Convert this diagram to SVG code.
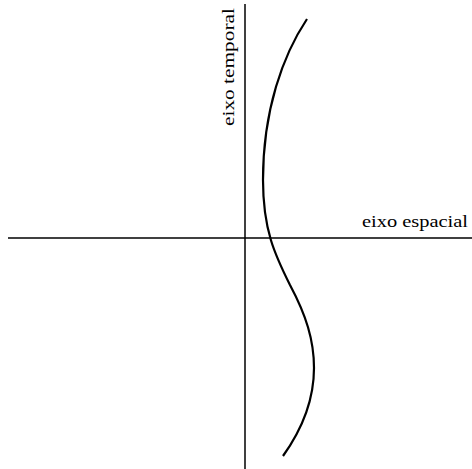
<svg xmlns="http://www.w3.org/2000/svg" width="472" height="469" viewBox="0 0 472 469">
<style>
.axis{stroke:#000;stroke-width:1.5;fill:none}
.curve{stroke:#000;stroke-width:2.2;fill:none}
.lbl{font-family:"Liberation Serif","DejaVu Serif",serif;font-size:16px;fill:#000}
</style>
<g id="axes">
<line class="axis" x1="245" y1="4" x2="245" y2="469"/>
<line class="axis" x1="8" y1="238" x2="472" y2="238"/>
</g>
<g id="worldline">
<path class="curve" d="M307,19 C283,55 263,110 263,180 C263,230 275,255 290,285 C306,315 314,340 314,368 C314,400 303,428 283,456"/>
</g>
<g id="labels">
<text class="lbl" x="362" y="227" textLength="106" lengthAdjust="spacingAndGlyphs">eixo espacial</text>
<text class="lbl" transform="translate(234,126) rotate(-90)" textLength="118" lengthAdjust="spacingAndGlyphs">eixo temporal</text>
</g>
</svg>
